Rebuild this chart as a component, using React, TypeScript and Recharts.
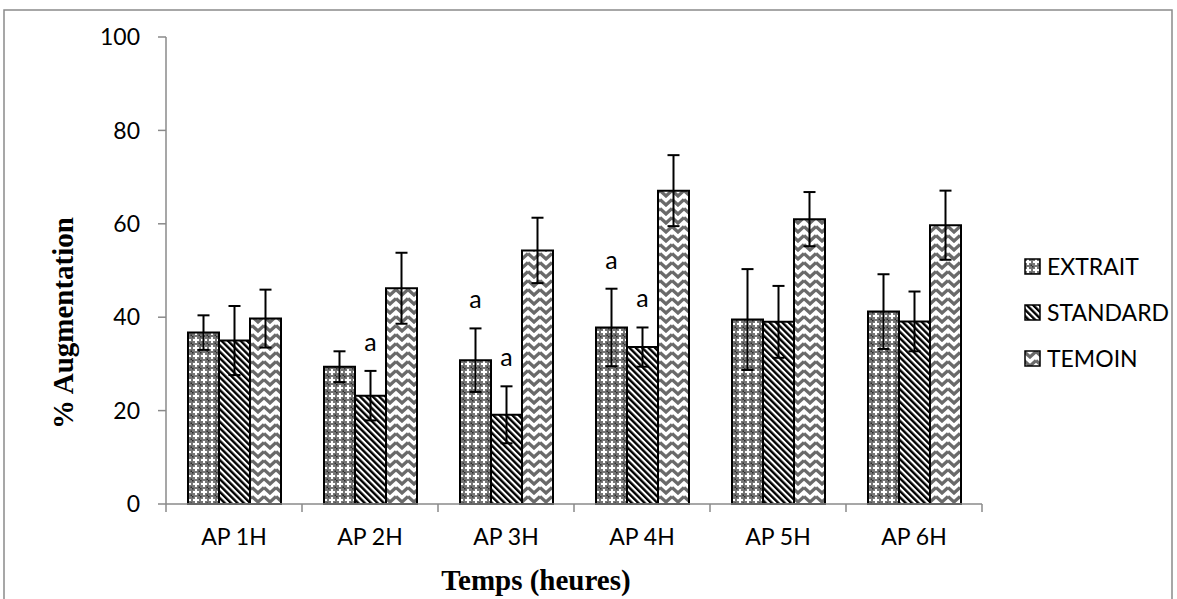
import React from "react";
import { BarChart, Bar, XAxis, YAxis, ErrorBar, LabelList, Legend } from "recharts";

const categories = ["AP 1H", "AP 2H", "AP 3H", "AP 4H", "AP 5H", "AP 6H"];
const extrait = [36.7, 29.4, 30.8, 37.8, 39.5, 41.2];
const extraitErr = [3.7, 3.3, 6.8, 8.3, 10.8, 8.0];
const standard = [35.0, 23.2, 19.1, 33.6, 39.0, 39.1];
const standardErr = [7.4, 5.3, 6.1, 4.2, 7.7, 6.4];
const temoin = [39.7, 46.2, 54.3, 67.1, 61.0, 59.7];
const temoinErr = [6.2, 7.6, 7.0, 7.6, 5.8, 7.4];
const extraitSig = ["", "", "a", "a", "", ""];
const standardSig = ["", "a", "a", "a", "", ""];
const yTicks = [0, 20, 40, 60, 80, 100];

const data = categories.map((name, i) => ({
  name,
  extrait: extrait[i],
  extraitErr: extraitErr[i],
  standard: standard[i],
  standardErr: standardErr[i],
  temoin: temoin[i],
  temoinErr: temoinErr[i],
}));

const FONT = "Lato, 'Open Sans', sans-serif";
const AXIS = "#8a8a8a";

// letter "a" above the error bar; px per unit taken from the bar itself
const sigLabel = (sig: string[], err: number[]) => (p: any) => {
  const { x, y, width, height, value, index } = p;
  const s = sig[index];
  if (!s || !value) return null;
  const k = height / value;
  const top = y - err[index] * k;
  return (
    <text x={x + width / 2} y={top - 20} textAnchor="middle" fontFamily={FONT} fontSize={25} fill="#000">
      {s}
    </text>
  );
};

const XTick = (p: any) => {
  const { x, y, payload, index, width, visibleTicksCount } = p;
  const bw = width / (visibleTicksCount || categories.length);
  const y0 = y - 25;
  return (
    <g>
      <line x1={x - bw / 2} y1={y0} x2={x - bw / 2} y2={y0 + 8} stroke={AXIS} strokeWidth={1.5} />
      {index === categories.length - 1 && (
        <line x1={x + bw / 2} y1={y0} x2={x + bw / 2} y2={y0 + 8} stroke={AXIS} strokeWidth={1.5} />
      )}
      <text x={x} y={y} dy="0.71em" textAnchor="middle" fontFamily={FONT} fontSize={23} fill="#000">
        {payload.value}
      </text>
    </g>
  );
};

const LegendBox = ({ payload }: any) => (
  <div style={{ fontFamily: FONT, fontSize: 23, color: "#000" }}>
    {(payload || []).map((e: any) => (
      <div key={e.value} style={{ height: 46, display: "flex", alignItems: "center" }}>
        <svg width={17} height={17} style={{ marginRight: 6 }}>
          <rect x={1} y={1} width={15} height={15} fill={e.color} stroke="#000" strokeWidth={1.5} />
        </svg>
        <span>{e.value}</span>
      </div>
    ))}
  </div>
);

export default function App() {
  return (
    <div style={{ position: "absolute", left: 0, top: 0, width: 1177, height: 599, background: "#fff" }}>
      <BarChart
        width={1177}
        height={599}
        data={data}
        margin={{ top: 37, right: 45, bottom: 0, left: 0 }}
        barCategoryGap={22}
        barGap={0}
      >
        <defs>
          <pattern id="patExtrait" patternUnits="userSpaceOnUse" width={8} height={8}>
            <rect width={8} height={8} fill="#767676" />
            <rect x={3} y={1} width={2} height={6} fill="#fff" />
            <rect x={1} y={3} width={6} height={2} fill="#fff" />
            <rect x={0} y={0} width={1.5} height={1.5} fill="#2e2e2e" />
            <rect x={6.5} y={6.5} width={1.5} height={1.5} fill="#2e2e2e" />
          </pattern>
          <pattern id="patStandard" patternUnits="userSpaceOnUse" width={4.5} height={4.5} patternTransform="rotate(-45)">
            <rect width={4.5} height={4.5} fill="#fff" />
            <rect width={2.4} height={4.5} fill="#000" />
          </pattern>
          <pattern id="patTemoin" patternUnits="userSpaceOnUse" width={12} height={9}>
            <rect width={12} height={9} fill="#fff" />
            <path d="M0,1.5 L6,7 L12,1.5" fill="none" stroke="#6a6a6a" strokeWidth={3.2} strokeLinejoin="miter" />
          </pattern>
        </defs>
        <rect x={4} y={10} width={1168} height={600} fill="none" stroke={AXIS} strokeWidth={1.5} />
        <XAxis
          dataKey="name"
          height={95}
          stroke={AXIS}
          strokeWidth={1.5}
          tickLine={false}
          tickSize={8}
          tickMargin={17}
          tick={<XTick />}
          interval={0}
        />
        <YAxis
          width={166}
          domain={[0, 100]}
          ticks={yTicks}
          stroke={AXIS}
          strokeWidth={1.5}
          tickSize={8}
          tickMargin={18}
          tickLine={{ stroke: AXIS, strokeWidth: 1.5 }}
          tick={{ fill: "#000", fontFamily: FONT, fontSize: 23 }}
        />
        <Legend
          layout="horizontal"
          verticalAlign="middle"
          align="right"
          content={<LegendBox />}
          wrapperStyle={{ left: 1024, top: 243, width: 150 }}
        />
        <Bar dataKey="extrait" name="EXTRAIT" fill="url(#patExtrait)" stroke="#000" strokeWidth={2} isAnimationActive={false}>
          <ErrorBar dataKey="extraitErr" width={6} stroke="#000" strokeWidth={2} direction="y" isAnimationActive={false} />
          <LabelList dataKey="extrait" content={sigLabel(extraitSig, extraitErr)} />
        </Bar>
        <Bar dataKey="standard" name="STANDARD" fill="url(#patStandard)" stroke="#000" strokeWidth={2} isAnimationActive={false}>
          <ErrorBar dataKey="standardErr" width={6} stroke="#000" strokeWidth={2} direction="y" isAnimationActive={false} />
          <LabelList dataKey="standard" content={sigLabel(standardSig, standardErr)} />
        </Bar>
        <Bar dataKey="temoin" name="TEMOIN" fill="url(#patTemoin)" stroke="#000" strokeWidth={2} isAnimationActive={false}>
          <ErrorBar dataKey="temoinErr" width={6} stroke="#000" strokeWidth={2} direction="y" isAnimationActive={false} />
        </Bar>
        <text
          x={73}
          y={323}
          transform="rotate(-90, 73, 323)"
          textAnchor="middle"
          fontFamily="'Liberation Serif', 'Times New Roman', serif"
          fontWeight="bold"
          fontSize={29}
          fill="#000"
        >
          % Augmentation
        </text>
        <text
          x={536}
          y={590}
          textAnchor="middle"
          fontFamily="'Liberation Serif', 'Times New Roman', serif"
          fontWeight="bold"
          fontSize={29}
          fill="#000"
        >
          Temps (heures)
        </text>
      </BarChart>
    </div>
  );
}
